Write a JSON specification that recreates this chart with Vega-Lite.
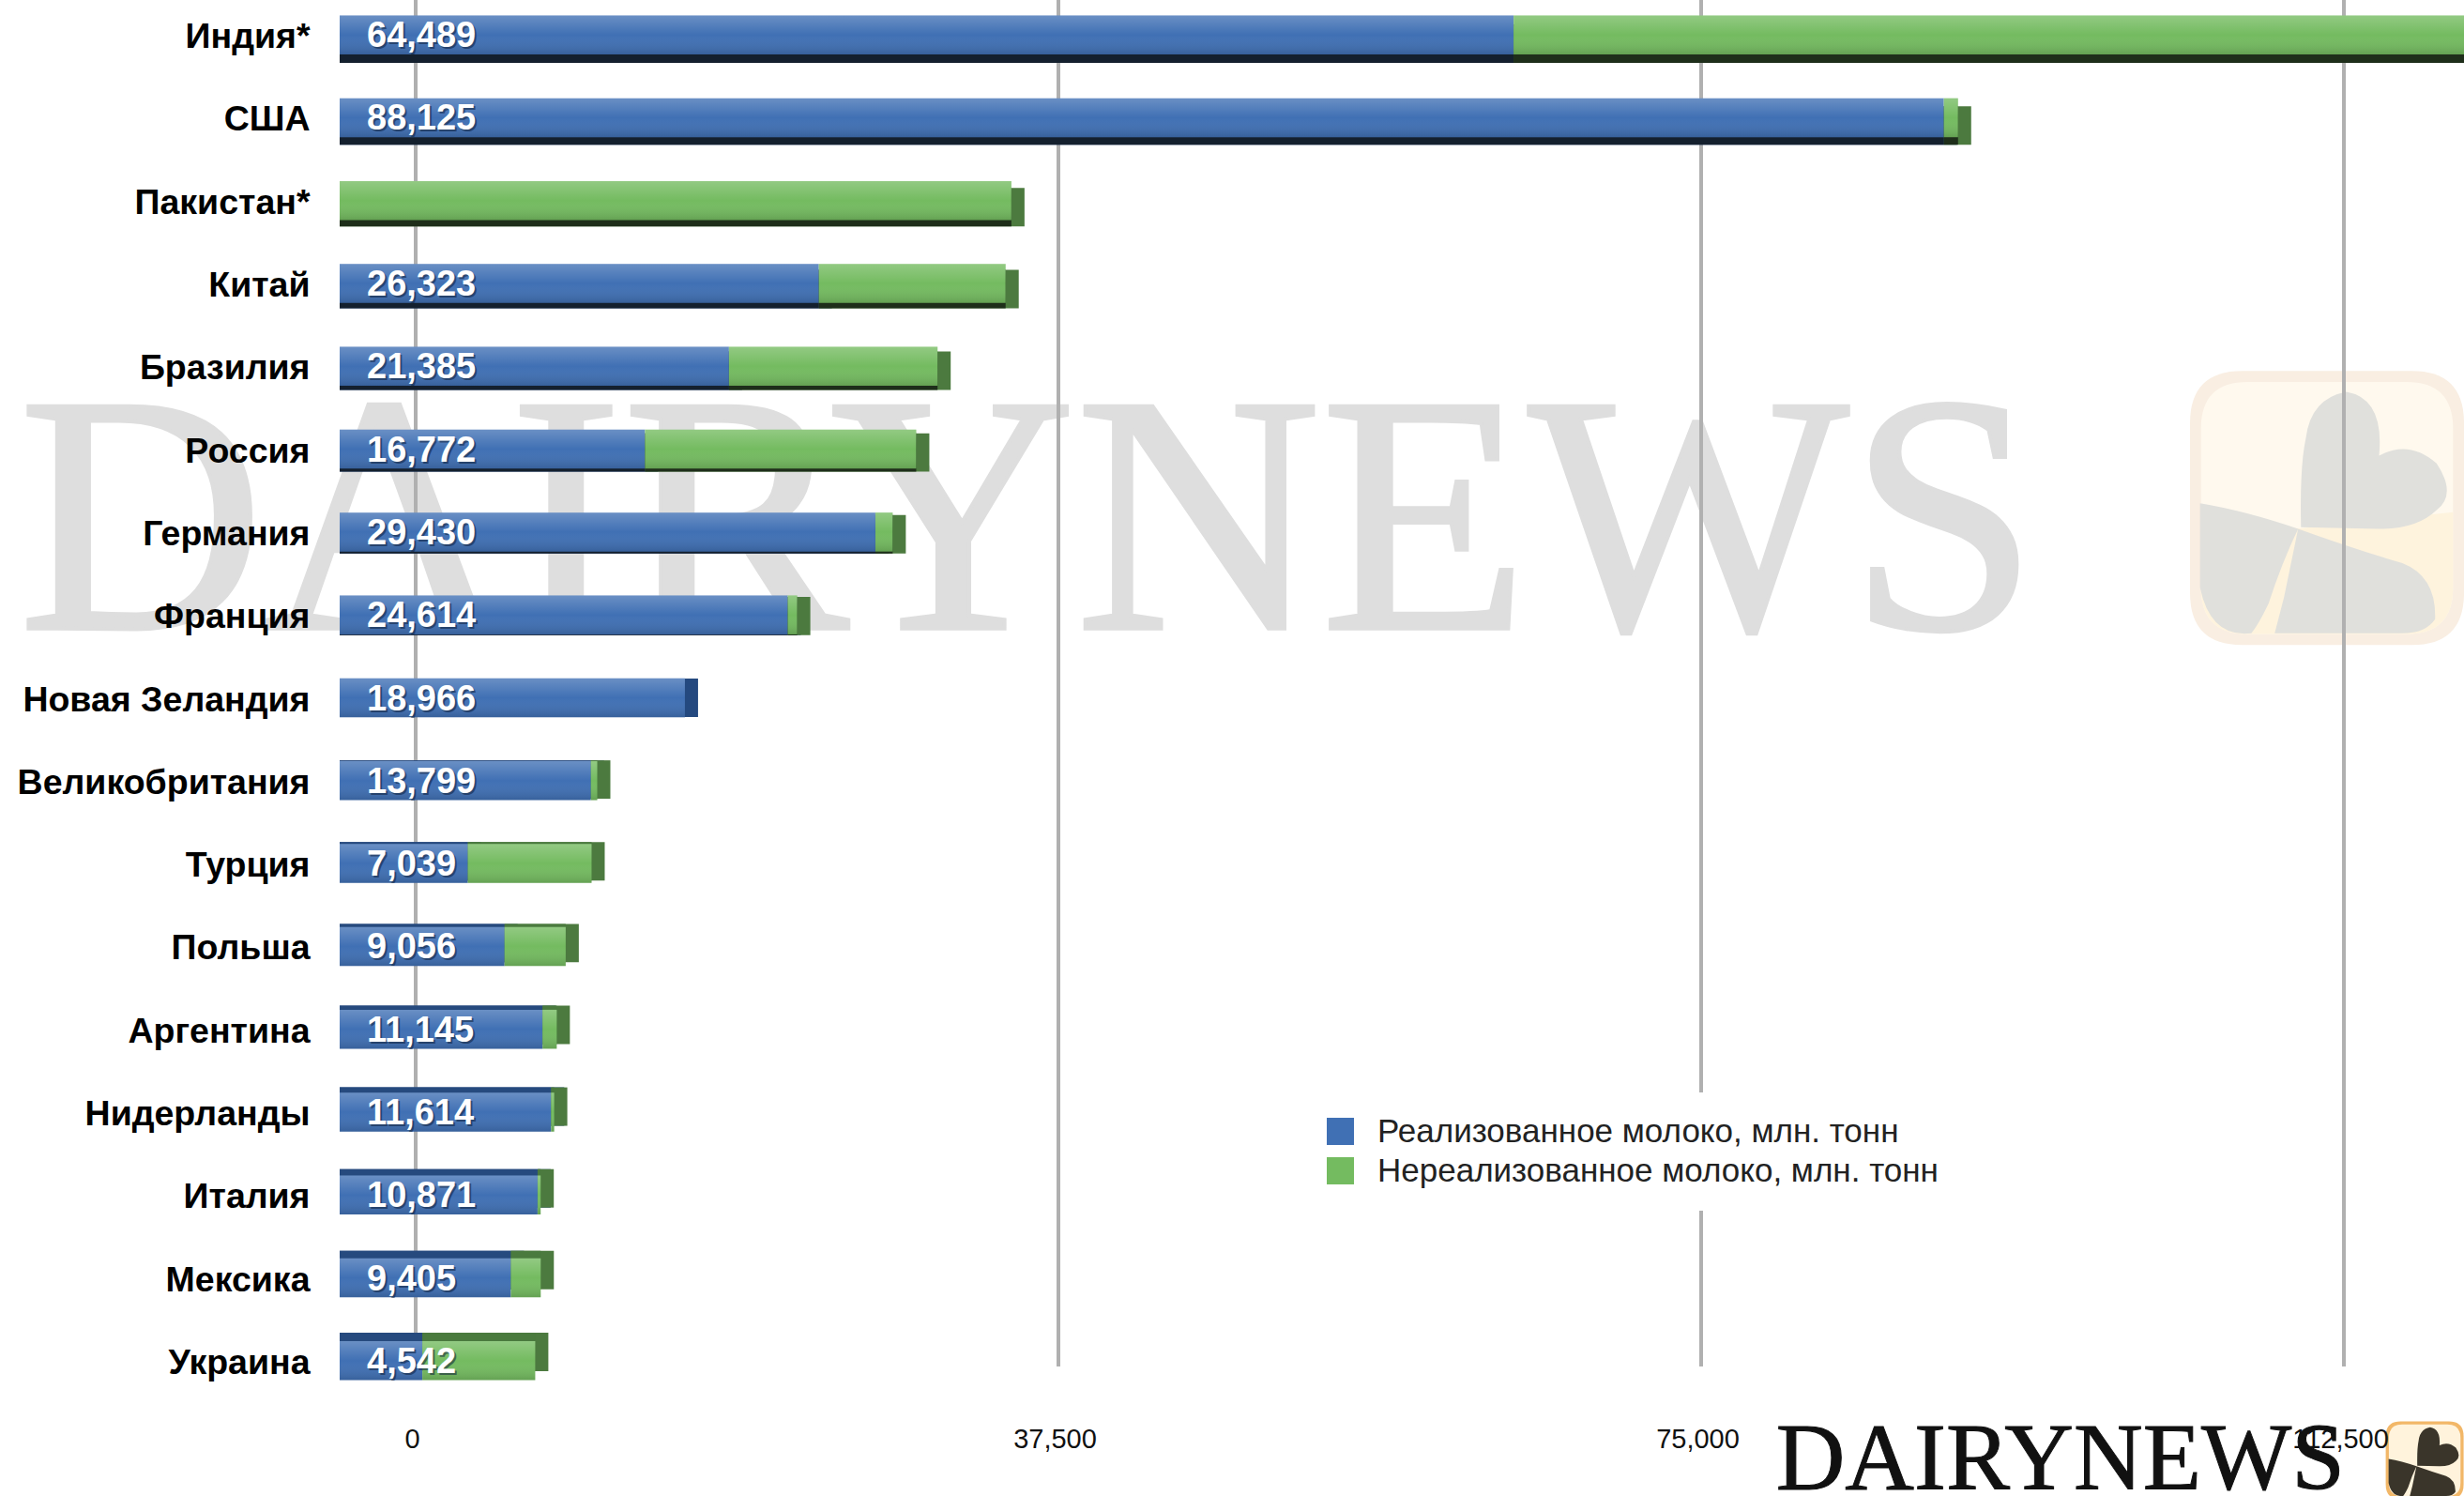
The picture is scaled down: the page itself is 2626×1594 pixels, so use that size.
{"$schema":"https://vega.github.io/schema/vega-lite/v6.json","width":2264,"height":1456,"autosize":{"type":"none"},"padding":{"left":362,"top":0,"right":0,"bottom":138},"background":"white","config":{"view":{"stroke":null}},
"datasets":{"milk":[
{"country":"Индия*","rank":1,"type":"Реализованное молоко, млн. тонн","value":64489},{"country":"Индия*","rank":1,"type":"Нереализованное молоко, млн. тонн","value":55000},
{"country":"США","rank":2,"type":"Реализованное молоко, млн. тонн","value":88125},{"country":"США","rank":2,"type":"Нереализованное молоко, млн. тонн","value":780},
{"country":"Пакистан*","rank":3,"type":"Реализованное молоко, млн. тонн","value":0},{"country":"Пакистан*","rank":3,"type":"Нереализованное молоко, млн. тонн","value":36900},
{"country":"Китай","rank":4,"type":"Реализованное молоко, млн. тонн","value":26323},{"country":"Китай","rank":4,"type":"Нереализованное молоко, млн. тонн","value":10260},
{"country":"Бразилия","rank":5,"type":"Реализованное молоко, млн. тонн","value":21385},{"country":"Бразилия","rank":5,"type":"Нереализованное молоко, млн. тонн","value":11460},
{"country":"Россия","rank":6,"type":"Реализованное молоко, млн. тонн","value":16772},{"country":"Россия","rank":6,"type":"Нереализованное молоко, млн. тонн","value":14900},
{"country":"Германия","rank":7,"type":"Реализованное молоко, млн. тонн","value":29430},{"country":"Германия","rank":7,"type":"Нереализованное молоко, млн. тонн","value":950},
{"country":"Франция","rank":8,"type":"Реализованное молоко, млн. тонн","value":24614},{"country":"Франция","rank":8,"type":"Нереализованное молоко, млн. тонн","value":520},
{"country":"Новая Зеландия","rank":9,"type":"Реализованное молоко, млн. тонн","value":18966},{"country":"Новая Зеландия","rank":9,"type":"Нереализованное молоко, млн. тонн","value":0},
{"country":"Великобритания","rank":10,"type":"Реализованное молоко, млн. тонн","value":13799},{"country":"Великобритания","rank":10,"type":"Нереализованное молоко, млн. тонн","value":350},
{"country":"Турция","rank":11,"type":"Реализованное молоко, млн. тонн","value":7039},{"country":"Турция","rank":11,"type":"Нереализованное молоко, млн. тонн","value":6800},
{"country":"Польша","rank":12,"type":"Реализованное молоко, млн. тонн","value":9056},{"country":"Польша","rank":12,"type":"Нереализованное молоко, млн. тонн","value":3360},
{"country":"Аргентина","rank":13,"type":"Реализованное молоко, млн. тонн","value":11145},{"country":"Аргентина","rank":13,"type":"Нереализованное молоко, млн. тонн","value":780},
{"country":"Нидерланды","rank":14,"type":"Реализованное молоко, млн. тонн","value":11614},{"country":"Нидерланды","rank":14,"type":"Нереализованное молоко, млн. тонн","value":170},
{"country":"Италия","rank":15,"type":"Реализованное молоко, млн. тонн","value":10871},{"country":"Италия","rank":15,"type":"Нереализованное молоко, млн. тонн","value":170},
{"country":"Мексика","rank":16,"type":"Реализованное молоко, млн. тонн","value":9405},{"country":"Мексика","rank":16,"type":"Нереализованное молоко, млн. тонн","value":1640},
{"country":"Украина","rank":17,"type":"Реализованное молоко, млн. тонн","value":4542},{"country":"Украина","rank":17,"type":"Нереализованное молоко, млн. тонн","value":6200}],
"ticks":[{"tick":0},{"tick":37500},{"tick":75000},{"tick":112500}],
"wm":[{"label":"DAIRYNEWS","at":-17630,"row":6.93}],
"wm2":[{"label":"DAIRYNEWS","at":78900,"row":18.2}],
"logoA":[{"at":109175,"row":6.71}],
"logoB":[{"at":114540,"row":18.2}]},
"layer":[
{"data":{"name":"wm"},"mark":{"type":"text","font":"Liberation Serif","fontSize":362,"align":"left","baseline":"middle","color":"#dedede","stroke":"#dedede","strokeWidth":4},"encoding":{"text":{"field":"label"},"x":{"field":"at","type":"quantitative","axis":null,"scale":{"domain":[0,116700],"range":[0,2264]}},"y":{"field":"row","type":"quantitative","axis":null,"scale":{"domain":[1,17],"range":[37,1450],"zero":false}}}},
{"data":{"name":"logoA"},"mark":{"type":"point","filled":true,"opacity":1,"size":85264,"color":"#f9eee2","shape":"M-0.62,-1 H0.62 Q1,-1 1,-0.62 V0.62 Q1,1 0.62,1 H-0.62 Q-1,1 -1,0.62 V-0.62 Q-1,-1 -0.62,-1 Z"},"encoding":{"x":{"field":"at","type":"quantitative","axis":null,"scale":{"domain":[0,116700],"range":[0,2264]}},"y":{"field":"row","type":"quantitative","axis":null,"scale":{"domain":[1,17],"range":[37,1450],"zero":false}}}},
{"data":{"name":"logoA"},"mark":{"type":"point","filled":true,"opacity":1,"size":85264,"color":"#fff9ee","shape":"M-0.58,-0.92 H0.58 Q0.92,-0.92 0.92,-0.58 V0.58 Q0.92,0.92 0.58,0.92 H-0.58 Q-0.92,0.92 -0.92,0.58 V-0.58 Q-0.92,-0.92 -0.58,-0.92 Z"},"encoding":{"x":{"field":"at","type":"quantitative","axis":null,"scale":{"domain":[0,116700],"range":[0,2264]}},"y":{"field":"row","type":"quantitative","axis":null,"scale":{"domain":[1,17],"range":[37,1450],"zero":false}}}},
{"data":{"name":"logoA"},"mark":{"type":"point","filled":true,"opacity":1,"size":85264,"color":"#fef3dd","shape":"M-0.92,0 L-0.21,0.15 L0.92,0.03 V0.58 Q0.92,0.92 0.58,0.92 H-0.58 Q-0.92,0.92 -0.92,0.58 Z"},"encoding":{"x":{"field":"at","type":"quantitative","axis":null,"scale":{"domain":[0,116700],"range":[0,2264]}},"y":{"field":"row","type":"quantitative","axis":null,"scale":{"domain":[1,17],"range":[37,1450],"zero":false}}}},
{"data":{"name":"logoA"},"mark":{"type":"point","filled":true,"opacity":1,"size":85264,"color":"#e0e0dc","shape":"M-0.19,0.14 Q-0.2,-0.3 -0.155,-0.507 Q-0.12,-0.8 0.141,-0.848 Q0.42,-0.8 0.38,-0.382 Q0.6,-0.5 0.8,-0.325 Q0.95,-0.1 0.8,0.016 Q0.65,0.16 0.368,0.152 Z M-0.927,-0.034 Q-0.6,0.02 -0.211,0.152 Q-0.33,0.4 -0.427,0.698 Q-0.5,0.85 -0.552,0.914 Q-0.85,0.95 -0.927,0.58 Z M-0.211,0.152 Q0.2,0.3 0.55,0.402 Q0.8,0.5 0.789,0.811 Q0.72,0.914 0.55,0.914 L-0.382,0.914 L-0.314,0.652 Z"},"encoding":{"x":{"field":"at","type":"quantitative","axis":null,"scale":{"domain":[0,116700],"range":[0,2264]}},"y":{"field":"row","type":"quantitative","axis":null,"scale":{"domain":[1,17],"range":[37,1450],"zero":false}}}},
{"data":{"name":"wm2"},"mark":{"type":"text","font":"Liberation Serif","fontSize":102,"align":"left","baseline":"middle","color":"#111111","stroke":"#111111","strokeWidth":1},"encoding":{"text":{"field":"label"},"x":{"field":"at","type":"quantitative","axis":null,"scale":{"domain":[0,116700],"range":[0,2264]}},"y":{"field":"row","type":"quantitative","axis":null,"scale":{"domain":[1,17],"range":[37,1450],"zero":false}}}},
{"data":{"name":"logoB"},"mark":{"type":"point","filled":true,"opacity":1,"size":6889,"color":"#f2b768","shape":"M-0.62,-1 H0.62 Q1,-1 1,-0.62 V0.62 Q1,1 0.62,1 H-0.62 Q-1,1 -1,0.62 V-0.62 Q-1,-1 -0.62,-1 Z"},"encoding":{"x":{"field":"at","type":"quantitative","axis":null,"scale":{"domain":[0,116700],"range":[0,2264]}},"y":{"field":"row","type":"quantitative","axis":null,"scale":{"domain":[1,17],"range":[37,1450],"zero":false}}}},
{"data":{"name":"logoB"},"mark":{"type":"point","filled":true,"opacity":1,"size":6889,"color":"#fff3dc","shape":"M-0.58,-0.92 H0.58 Q0.92,-0.92 0.92,-0.58 V0.58 Q0.92,0.92 0.58,0.92 H-0.58 Q-0.92,0.92 -0.92,0.58 V-0.58 Q-0.92,-0.92 -0.58,-0.92 Z"},"encoding":{"x":{"field":"at","type":"quantitative","axis":null,"scale":{"domain":[0,116700],"range":[0,2264]}},"y":{"field":"row","type":"quantitative","axis":null,"scale":{"domain":[1,17],"range":[37,1450],"zero":false}}}},
{"data":{"name":"logoB"},"mark":{"type":"point","filled":true,"opacity":1,"size":6889,"color":"#3a352a","shape":"M-0.19,0.14 Q-0.2,-0.3 -0.155,-0.507 Q-0.12,-0.8 0.141,-0.848 Q0.42,-0.8 0.38,-0.382 Q0.6,-0.5 0.8,-0.325 Q0.95,-0.1 0.8,0.016 Q0.65,0.16 0.368,0.152 Z M-0.927,-0.034 Q-0.6,0.02 -0.211,0.152 Q-0.33,0.4 -0.427,0.698 Q-0.5,0.85 -0.552,0.914 Q-0.85,0.95 -0.927,0.58 Z M-0.211,0.152 Q0.2,0.3 0.55,0.402 Q0.8,0.5 0.789,0.811 Q0.72,0.914 0.55,0.914 L-0.382,0.914 L-0.314,0.652 Z"},"encoding":{"x":{"field":"at","type":"quantitative","axis":null,"scale":{"domain":[0,116700],"range":[0,2264]}},"y":{"field":"row","type":"quantitative","axis":null,"scale":{"domain":[1,17],"range":[37,1450],"zero":false}}}},
{"data":{"name":"ticks"},"mark":{"type":"rule","color":"#b0b0b0","strokeWidth":4},"encoding":{"x":{"field":"tick","type":"quantitative","scale":{"domain":[0,112500],"range":[81,2136]},"axis":{"values":[0,37500,75000,112500],"format":",.0f","title":null,"orient":"bottom","grid":false,"ticks":false,"domain":false,"labelFont":"Liberation Sans","labelFontSize":29,"labelColor":"#111111","labelPadding":63,"labelOffset":-4,"labelOverlap":false,"labelBound":false,"labelFlush":false,"zindex":2}}}},
{"data":{"name":"milk"},"transform":[{"stack":"value","groupby":["country"],"sort":[{"field":"type","order":"descending"}],"as":["v0","v1"]},{"filter":"datum.value>0"}],"mark":{"type":"bar","x2Offset":14},"encoding":{"x":{"field":"v0","type":"quantitative","axis":null,"scale":{"domain":[0,116700],"range":[0,2264]}},"x2":{"field":"v1"},"y":{"field":"country","type":"nominal","axis":null,"scale":{"type":"band","domain":["Индия*","США","Пакистан*","Китай","Бразилия","Россия","Германия","Франция","Новая Зеландия","Великобритания","Турция","Польша","Аргентина","Нидерланды","Италия","Мексика","Украина"],"range":[3,1484],"paddingInner":0.53,"paddingOuter":0.265}},"order":{"field":"v0","type":"quantitative"},"color":{"condition":{"test":"datum.type=='Реализованное молоко, млн. тонн'","value":"#24497f"},"value":"#4c7a3f"}}},
{"data":{"name":"milk"},"transform":[{"stack":"value","groupby":["country"],"sort":[{"field":"type","order":"descending"}],"as":["v0","v1"]}],"mark":{"type":"bar"},"encoding":{"x":{"field":"v0","type":"quantitative","axis":null,"scale":{"domain":[0,116700],"range":[0,2264]}},"x2":{"field":"v1"},"y":{"field":"country","type":"nominal","axis":null,"sort":{"field":"rank","op":"min","order":"ascending"},"scale":{"type":"band","range":[3,1484],"paddingInner":0.53,"paddingOuter":0.265}},"color":{"condition":[{"test":"datum.rank<=8 && datum.type=='Реализованное молоко, млн. тонн'","value":"#14202e"},{"test":"datum.rank<=8","value":"#1e2e1a"},{"test":"datum.type=='Реализованное молоко, млн. тонн'","value":"#264a7e"}],"value":"#4a7a3e"}}},
{"data":{"name":"milk"},"transform":[{"stack":"value","groupby":["country"],"sort":[{"field":"type","order":"descending"}],"as":["v0","v1"]}],"mark":{"type":"bar"},"encoding":{"x":{"field":"v0","type":"quantitative","axis":null,"scale":{"domain":[0,116700],"range":[0,2264]}},"x2":{"field":"v1"},"y":{"field":"country","type":"nominal","sort":{"field":"rank","op":"min","order":"ascending"},"scale":{"type":"band","range":[-7,1494],"paddingInner":0.53,"paddingOuter":0.265},"axis":{"title":null,"ticks":false,"domain":false,"labelFont":"Liberation Sans","labelFontWeight":"bold","labelFontSize":37.5,"labelColor":"#000000","labelPadding":32,"labelLimit":0,"labelOffset":3,"labelOverlap":false,"labelBound":false,"labelFlush":false,"zindex":2}},"color":{"field":"type","type":"nominal","scale":{"domain":["Реализованное молоко, млн. тонн","Нереализованное молоко, млн. тонн"],"range":["#4070b4","#74bb60"]},"legend":{"orient":"none","legendX":1025,"legendY":1164,"title":null,"symbolType":"square","symbolSize":841,"symbolStrokeWidth":0,"symbolOpacity":1,"labelFont":"Liberation Sans","labelFontSize":35,"labelColor":"#222222","labelLimit":0,"labelOffset":22,"fillColor":"white","padding":24,"rowPadding":6}}}},
{"data":{"name":"milk"},"transform":[{"stack":"value","groupby":["country"],"sort":[{"field":"type","order":"descending"}],"as":["v0","v1"]}],"mark":{"type":"bar","color":{"gradient":"linear","x1":0,"y1":0,"x2":0,"y2":1,"stops":[{"offset":0,"color":"rgba(255,255,255,0.22)"},{"offset":0.5,"color":"rgba(255,255,255,0)"},{"offset":1,"color":"rgba(0,0,0,0.14)"}]}},"encoding":{"x":{"field":"v0","type":"quantitative","axis":null,"scale":{"domain":[0,116700],"range":[0,2264]}},"x2":{"field":"v1"},"y":{"field":"country","type":"nominal","axis":null,"sort":{"field":"rank","op":"min","order":"ascending"},"scale":{"type":"band","range":[-7,1494],"paddingInner":0.53,"paddingOuter":0.265}}}},
{"data":{"name":"milk"},"transform":[{"filter":"datum.type=='Реализованное молоко, млн. тонн' && datum.value>0"}],"mark":{"type":"text","align":"left","baseline":"middle","dx":31,"dy":4,"font":"Liberation Sans","fontWeight":"bold","fontSize":38,"color":"#10203a","opacity":0.55},"encoding":{"text":{"field":"value","type":"quantitative","format":","},"x":{"datum":0,"type":"quantitative","axis":null,"scale":{"domain":[0,116700],"range":[0,2264]}},"y":{"field":"country","type":"nominal","axis":null,"scale":{"type":"band","domain":["Индия*","США","Пакистан*","Китай","Бразилия","Россия","Германия","Франция","Новая Зеландия","Великобритания","Турция","Польша","Аргентина","Нидерланды","Италия","Мексика","Украина"],"range":[-7,1494],"paddingInner":0.53,"paddingOuter":0.265}}}},
{"data":{"name":"milk"},"transform":[{"filter":"datum.type=='Реализованное молоко, млн. тонн' && datum.value>0"}],"mark":{"type":"text","align":"left","baseline":"middle","dx":29,"dy":2,"font":"Liberation Sans","fontWeight":"bold","fontSize":38,"color":"#ffffff"},"encoding":{"text":{"field":"value","type":"quantitative","format":","},"x":{"datum":0,"type":"quantitative","axis":null,"scale":{"domain":[0,116700],"range":[0,2264]}},"y":{"field":"country","type":"nominal","axis":null,"scale":{"type":"band","domain":["Индия*","США","Пакистан*","Китай","Бразилия","Россия","Германия","Франция","Новая Зеландия","Великобритания","Турция","Польша","Аргентина","Нидерланды","Италия","Мексика","Украина"],"range":[-7,1494],"paddingInner":0.53,"paddingOuter":0.265}}}}
],
"resolve":{"scale":{"x":"independent","y":"independent","color":"independent"},"axis":{"x":"independent","y":"independent"}}}
